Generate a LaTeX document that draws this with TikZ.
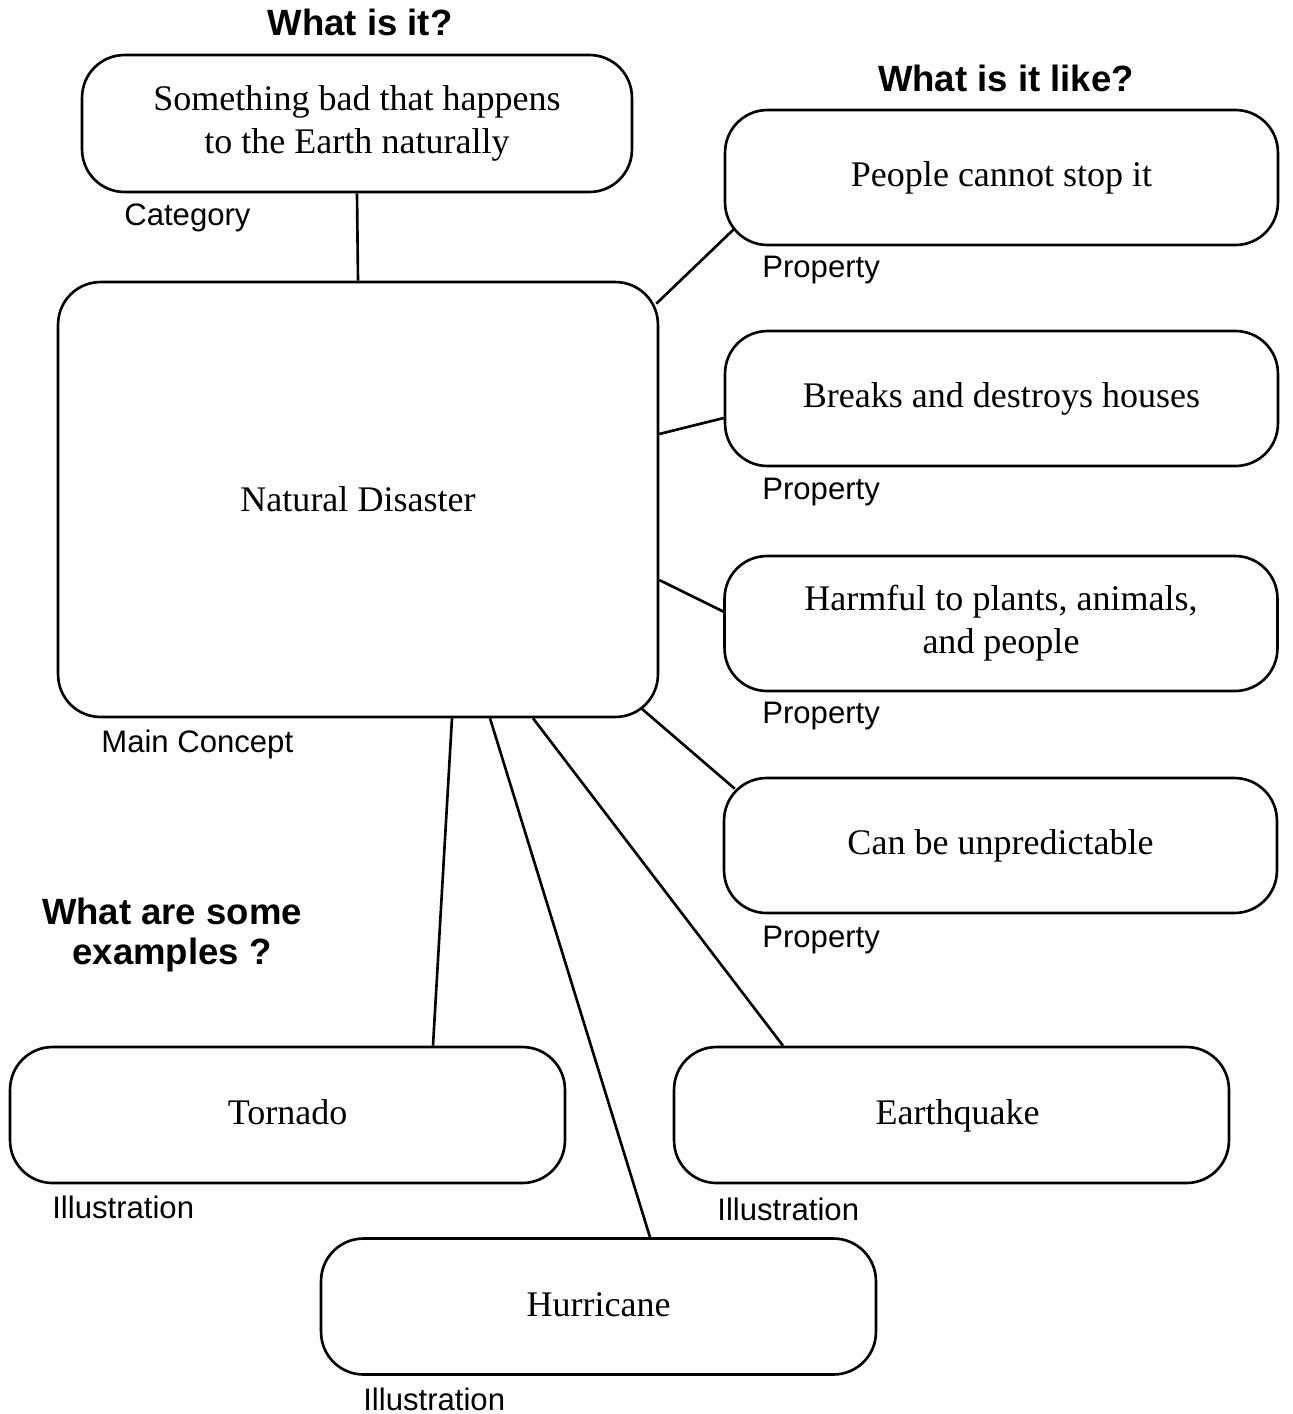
\documentclass[tikz,border=0pt]{standalone}
\usepackage{fontspec}
\setmainfont{Liberation Serif}
\setsansfont{Liberation Sans}
\usetikzlibrary{positioning}

\begin{document}
\begin{tikzpicture}[
    x=0.02cm, y=-0.02cm,
    concept/.style={draw, line width=1.5pt, rounded corners=0.85cm, align=center, font=\fontsize{20.5}{24.5}\selectfont},
    prop/.style={concept, minimum width=11.06cm, minimum height=2.7cm},
    example/.style={concept, minimum width=11.1cm, minimum height=2.72cm, text height=14pt, text depth=3pt},
    tag/.style={anchor=west, inner sep=0pt, font=\sffamily\fontsize{17.7}{20}\selectfont},
    question/.style={align=center, font=\sffamily\bfseries\fontsize{20.8}{22.7}\selectfont},
    link/.style={line width=1.5pt}
  ]
    \useasboundingbox (0,0) rectangle (1293,1414);
    % main concept and category
    \node[concept, minimum width=12cm, minimum height=8.7cm] (main) at (358,499.5) {Natural Disaster};
    \node[concept, minimum width=11cm, minimum height=2.74cm] (cat) at (357,123.5) {Something bad that happens\\to the Earth naturally};
    \node[question] (qcat) at (360,22) {What is it?};
    \node[tag] (tcat) at (124,218) {Category};
    \node[tag] (tmain) at (101,744) {Main Concept};
    \draw[link] (cat.south) -- (main.north);
    % properties
    \node[question] (qprop) at (1006,78) {What is it like?};
    \node[prop] (p1) at (1001.5,177.5) {People cannot stop it};
    \node[prop] (p2) at (1001.5,398.5) {Breaks and destroys houses};
    \node[prop] (p3) at (1001,623.5) {Harmful to plants, animals,\\and people};
    \node[prop] (p4) at (1000.5,845.5) {Can be unpredictable};
    \node[tag] (tp1) at (762,270) {Property};
    \node[tag] (tp2) at (762,492) {Property};
    \node[tag] (tp3) at (762,716) {Property};
    \node[tag] (tp4) at (762,940) {Property};
    \draw[link] ([shift={(-3,23)}]main.north east) -- ([shift={(10,-17)}]p1.south west);
    \draw[link] ([shift={(0,-65.5)}]main.east) -- ([shift={(0,19.5)}]p2.west);
    \draw[link] ([shift={(0,80.5)}]main.east) -- ([shift={(1,-11.5)}]p3.west);
    \draw[link] ([shift={(-18,-10)}]main.south east) -- ([shift={(12,12)}]p4.north west);
    % examples
    \node[question] (qex) at (172,935) {What are some\\examples ?};
    \node[example] (torn) at (287.5,1115) {Tornado};
    \node[example] (quake) at (951.5,1115) {\hspace{7pt}Earthquake};
    \node[example] (hurr) at (598.5,1306.5) {Hurricane};
    \node[tag] (tt) at (52,1207) {Illustration};
    \node[tag] (tq) at (717,1209) {Illustration};
    \node[tag] (th) at (363,1399) {Illustration};
    \draw[link] ([shift={(94,0)}]main.south) -- ([shift={(145.5,0)}]torn.north);
    \draw[link] ([shift={(132,0)}]main.south) -- ([shift={(51.5,0)}]hurr.north);
    \draw[link] ([shift={(175,0)}]main.south) -- ([shift={(-168.5,0)}]quake.north);
  \end{tikzpicture}
\end{document}
